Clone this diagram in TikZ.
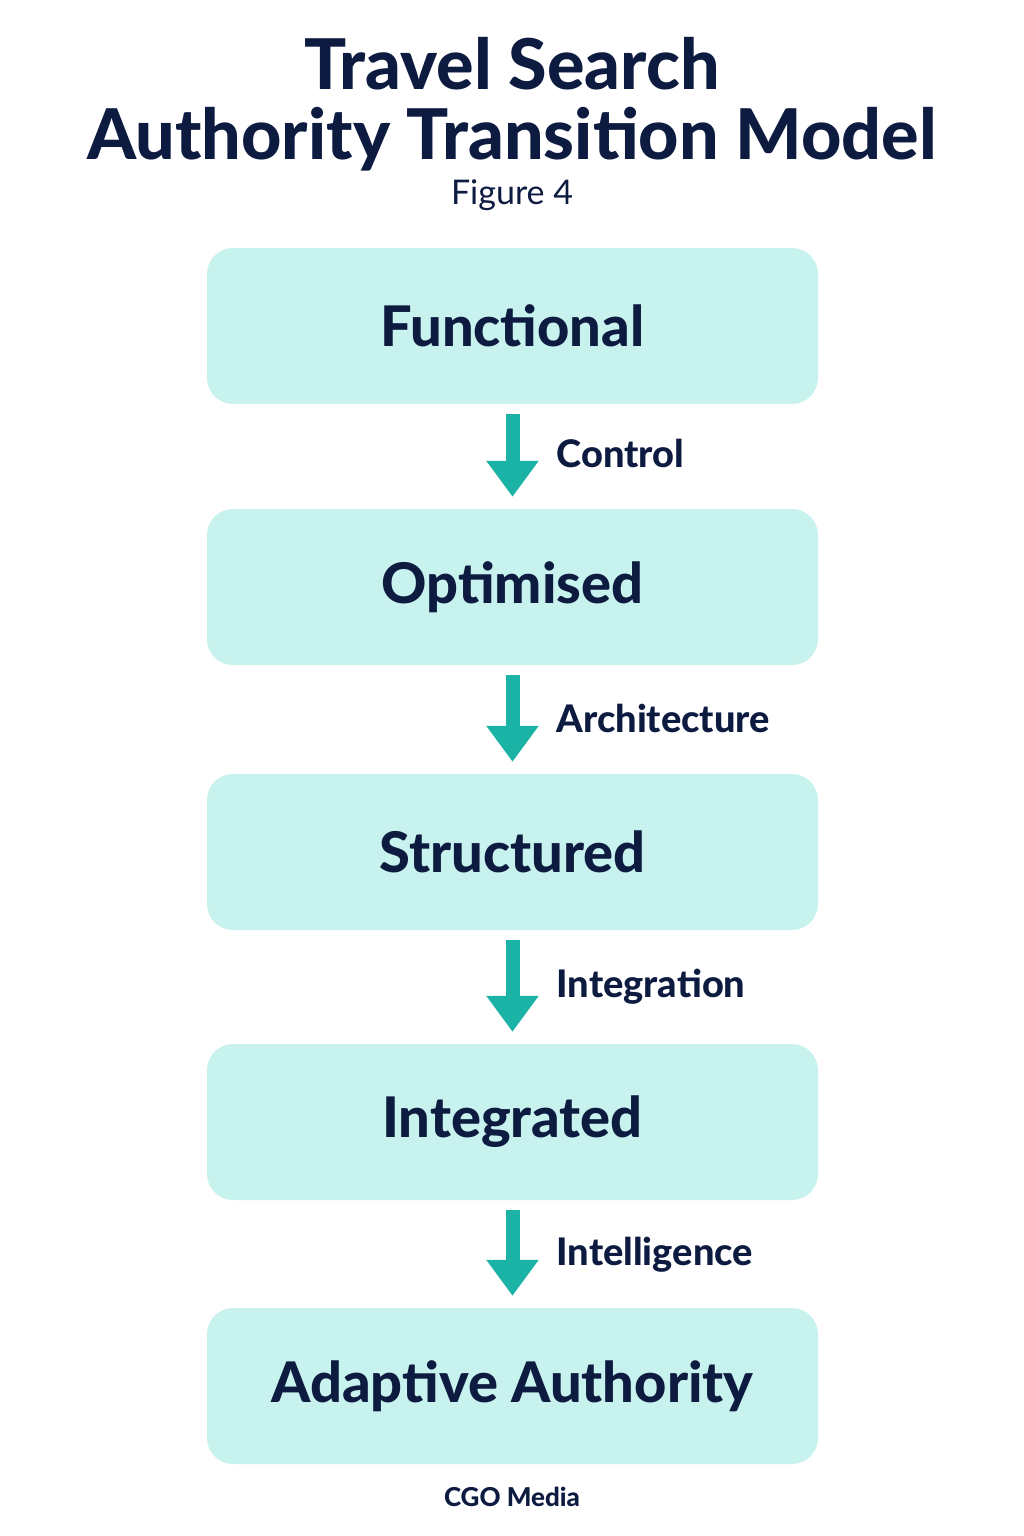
\documentclass[tikz,border=0pt]{standalone}
\usepackage{fontspec}
\setmainfont{Lato}[BoldFont={Lato Heavy}]
\usepackage{xcolor}
\usetikzlibrary{arrows.meta}

\definecolor{navy}{HTML}{0D1B40}
\definecolor{stagefill}{HTML}{C8F2EE}
\definecolor{teal}{HTML}{1AB3A6}

\tikzset{
  stage/.style={fill=stagefill, rounded corners=26pt, minimum width=611pt,
    minimum height=156pt, text=navy, font=\fontsize{56}{60}\selectfont\bfseries},
  flow/.style={teal, line width=14pt, -{Triangle[width=50pt,length=36pt]},
    shorten <=10pt, shorten >=12pt},
  steplabel/.style={anchor=west, text=navy, font=\fontsize{38}{40}\selectfont\bfseries}
}

\begin{document}
\begin{tikzpicture}[x=1pt,y=-1pt]
    \useasboundingbox (0,0) rectangle (1024,1536);
    \fill[white] (0,0) rectangle (1024,1536);

    % Title
    \node[text=navy, font=\fontsize{70}{76}\selectfont\bfseries] (title1) at (512,64) {Travel Search};
    \node[text=navy, font=\fontsize{70}{76}\selectfont\bfseries] (title2) at (512,139) {Authority Transition Model};
    \node[text=navy, font=\fontsize{34}{38}\selectfont] (fig) at (512,195) {Figure 4};

    % Stages
    \node[stage] (functional) at (512.5,326) {Functional};
    \node[stage] (optimised) at (512.5,587) {Optimised};
    \node[stage] (structured) at (512.5,852) {Structured};
    \node[stage] (integrated) at (512.5,1122) {Integrated};
    \node[stage] (adaptive) at (512.5,1386) {Adaptive Authority};

    % Arrows
    \draw[flow] (functional) -- (optimised);
    \draw[flow] (optimised) -- (structured);
    \draw[flow] (structured) -- (integrated);
    \draw[flow] (integrated) -- (adaptive);

    % Labels
    \node[steplabel] (control) at (553,453) {Control};
    \node[steplabel] (architecture) at (553,718) {Architecture};
    \node[steplabel] (integration) at (553,987) {Integration};
    \node[steplabel] (intelligence) at (553,1255) {Intelligence};

    % Footer
    \node[text=navy, font=\fontsize{26}{30}\selectfont\bfseries] (source) at (512,1497) {CGO Media};
\end{tikzpicture}
\end{document}
